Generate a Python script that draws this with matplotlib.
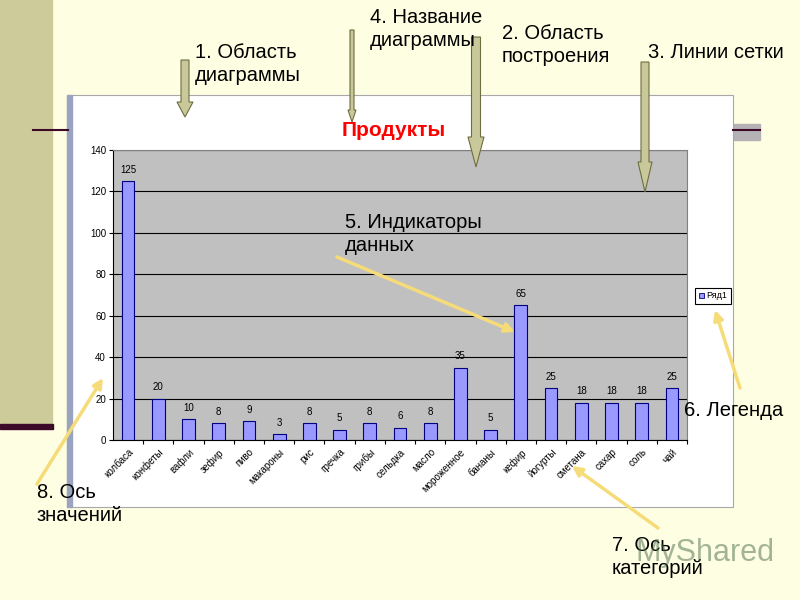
# Слайд: элементы диаграммы Excel (Продукты)
import matplotlib.pyplot as plt
from matplotlib.patches import Rectangle, FancyArrow

plt.rcParams['font.family'] = ['Liberation Sans', 'DejaVu Sans']

# данные
products = ["колбаса", "конфеты", "вафли", "зефир", "пиво", "макароны", "рис",
            "гречка", "грибы", "сельдка", "масло", "мороженное", "бананы",
            "кефир", "йогурты", "сметана", "сахар", "соль", "чай"]
amounts = [125, 20, 10, 8, 9, 3, 8, 5, 8, 6, 8, 35, 5, 65, 25, 18, 18, 18, 25]
y_ticks = [0, 20, 40, 60, 80, 100, 120, 140]

W, H = 800, 600
fig = plt.figure(figsize=(8, 6), dpi=100)
fig.patch.set_facecolor('#FEFEE3')

# фон слайда (координаты в пикселях)
bg = fig.add_axes([0, 0, 1, 1], zorder=0)
bg.set_xlim(0, W)
bg.set_ylim(H, 0)
bg.axis('off')
bg.add_patch(Rectangle((0, 0), 52, 426, color='#CDCB9A'))
bg.add_patch(Rectangle((0, 424), 53, 5, color='#3C0A28'))
bg.add_patch(Rectangle((733, 124), 27, 16, color='#B4B2B4'))
bg.plot([33, 68], [130, 130], color='#3C0A28', lw=1.5)
bg.plot([733, 760], [130, 130], color='#3C0A28', lw=1.5)
# область диаграммы
bg.add_patch(Rectangle((67, 95), 666, 412, facecolor='white', edgecolor='#A8A8A8', lw=0.8))
bg.add_patch(Rectangle((67, 95), 5, 412, color='#9AA4C0'))
bg.text(394, 131, "Продукты", color='#FF0000', fontsize=15, fontweight='bold',
        ha='center', va='center')
# легенда
bg.add_patch(Rectangle((695, 288), 36, 16, facecolor='white', edgecolor='black', lw=0.8))
bg.add_patch(Rectangle((699, 293), 5, 5, facecolor='#9999FF', edgecolor='#000080', lw=0.6))
bg.text(706, 296, "Ряд1", fontsize=6.5, va='center')

# область построения
ax = fig.add_axes([113 / W, 1 - 440 / H, (687 - 113) / W, (440 - 150) / H], zorder=1)
ax.set_facecolor('#C0C0C0')
x = list(range(len(products)))
ax.bar(x, amounts, width=0.42, color='#9999FF', edgecolor='#000080', lw=0.8, zorder=3)
for xi, v in zip(x, amounts):
    ax.text(xi, v + 3, str(v), ha='center', va='bottom', fontsize=7)
ax.set_xlim(-0.5, len(products) - 0.5)
ax.set_ylim(0, 140)
ax.set_yticks(y_ticks)
ax.set_yticklabels([str(t) for t in y_ticks], fontsize=7)
ax.set_xticks([i + 0.5 for i in x], minor=False)
ax.set_xticklabels([])
ax.set_xticks(x, minor=True)
ax.set_xticklabels(products, minor=True, rotation=45, ha='right', rotation_mode='anchor',
                   fontsize=7)
ax.tick_params(axis='x', which='minor', length=0, pad=5)
ax.tick_params(axis='x', which='major', length=3, direction='out')
ax.tick_params(axis='y', length=3, pad=2)
ax.yaxis.grid(True, color='black', lw=0.8)
ax.set_axisbelow(True)
for s in ['top', 'right']:
    ax.spines[s].set_color('#808080')
    ax.spines[s].set_linewidth(0.8)

# подписи и стрелки поверх
ov = fig.add_axes([0, 0, 1, 1], zorder=2)
ov.set_xlim(0, W)
ov.set_ylim(H, 0)
ov.axis('off')
ov.patch.set_alpha(0)

fs = 14.5
ls = 1.22
ov.text(195, 64, "1. Область\nдиаграммы", fontsize=fs, va='center', linespacing=ls)
ov.text(370, 29, "4. Название\nдиаграммы", fontsize=fs, va='center', linespacing=ls)
ov.text(502, 45, "2. Область\nпостроения", fontsize=fs, va='center', linespacing=ls)
ov.text(648, 52, "3. Линии сетки", fontsize=fs, va='center')
ov.text(345, 234, "5. Индикаторы\nданных", fontsize=fs, va='center', linespacing=ls)
ov.text(684, 411, "6. Легенда", fontsize=fs, va='center')
ov.text(612, 557, "7. Ось\nкатегорий", fontsize=fs, va='center', linespacing=ls)
ov.text(37, 504, "8. Ось\nзначений", fontsize=fs, va='center', linespacing=ls)
ov.text(705, 553, "MyShared", fontsize=22, color='#4A6A4A', alpha=0.5,
        ha='center', va='center')

# блочные стрелки
khaki = '#C9C89A'
edge = '#6E6E40'
ov.add_patch(FancyArrow(185, 60, 0, 57, width=8, head_width=16, head_length=15,
                        length_includes_head=True, fc=khaki, ec=edge, lw=0.8))
ov.add_patch(FancyArrow(352, 30, 0, 92, width=4, head_width=8, head_length=12,
                        length_includes_head=True, fc=khaki, ec=edge, lw=0.8))
ov.add_patch(FancyArrow(476, 37, 0, 130, width=9, head_width=16, head_length=30,
                        length_includes_head=True, fc=khaki, ec=edge, lw=0.8))
ov.add_patch(FancyArrow(645, 62, 0, 130, width=8, head_width=14, head_length=30,
                        length_includes_head=True, fc=khaki, ec=edge, lw=0.8))

# жёлтые указатели
yellow = '#F5DC78'
for (x0, y0), (x1, y1) in [((337, 257), (515, 332)), ((740, 388), (715, 310)),
                           ((658, 528), (572, 466)), ((37, 484), (103, 378))]:
    ov.annotate("", xy=(x1, y1), xytext=(x0, y0),
                arrowprops=dict(arrowstyle='-|>', color=yellow, lw=2.5,
                                mutation_scale=14, shrinkA=0, shrinkB=0))

fig.savefig("out.png", dpi=100, facecolor=fig.get_facecolor())
